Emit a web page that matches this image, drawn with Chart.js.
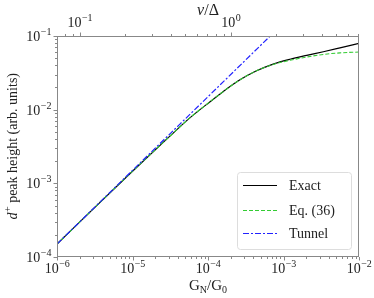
<!DOCTYPE html>
<html>
<head>
<meta charset="utf-8">
<script src="https://cdn.jsdelivr.net/npm/chart.js"></script>
<style>
  body { margin: 0; background: #fff; }
  #wrap { width: 374px; height: 298px; }
</style>
</head>
<body>
<div id="wrap"><canvas id="chart" width="374" height="298"></canvas></div>
<script>
// conductance G_N/G_0 sample points
const gExact = [1e-6, 3e-6, 1e-5, 3e-5, 5.8e-5, 9.6e-5, 1.6e-4, 2.65e-4, 4.4e-4, 7.3e-4, 1.22e-3, 2.03e-3, 3.37e-3, 5.6e-3, 1e-2];
const exactVals = [1.5e-4, 4.47e-4, 1.46e-3, 4.2e-3, 7.8e-3, 0.0118, 0.0177, 0.0254, 0.0337, 0.0416, 0.0484, 0.0546, 0.0611, 0.0690, 0.0795];
const eq36Vals = [1.5e-4, 4.47e-4, 1.46e-3, 4.2e-3, 7.8e-3, 0.0118, 0.0177, 0.0254, 0.0337, 0.0411, 0.0468, 0.0518, 0.0562, 0.0590, 0.0606];
const gTunnel = [1e-6, 1e-5, 1e-4, 6.67e-4];
const tunnelVals = [1.5e-4, 1.5e-3, 1.5e-2, 0.1];

const seriesNames = ['Exact', 'Eq. (36)', 'Tunnel'];
const seriesColors = ['#000000', '#33cc33', '#2222ff'];
const seriesDash = [[], [4, 2], [6, 2, 2, 2]];
const seriesWidth = [1.2, 1.1, 1.2];

// axis ranges / tick exponents
const xExps = [-6, -5, -4, -3, -2];
const yExps = [-4, -3, -2, -1];
const topExps = [-1, 0];
const topMin = 0.0707, topMax = 7.07;

const SERIF = '"Liberation Serif", "DejaVu Serif", serif';
const AXIS = '#888';

function pts(xs, ys) {
    return xs.map((x, i) => ({ x: x, y: ys[i] }));
}

// "10" with a superscript exponent
function drawPow(ctx, x, y, exp, align) {
    const base = '10';
    const supTxt = exp < 0 ? '\u2212' + Math.abs(exp) : String(exp);
    ctx.font = '14px ' + SERIF;
    const wb = ctx.measureText(base).width;
    ctx.font = '10px ' + SERIF;
    const ws = ctx.measureText(supTxt).width;
    const w = wb + ws;
    let x0 = align === 'right' ? x - w : x - w / 2;
    ctx.textAlign = 'left';
    ctx.font = '14px ' + SERIF;
    ctx.fillText(base, x0, y);
    ctx.font = '10px ' + SERIF;
    ctx.fillText(supTxt, x0 + wb + 0.5, y - 6);
}

function logTicks(min, max) {
    const out = [];
    for (let e = -8; e <= 2; e++) {
        for (let m = 1; m <= 9; m++) {
            const v = m * Math.pow(10, e);
            if (v >= min * 0.9999 && v <= max * 1.0001) out.push({ v: v, major: m === 1 });
        }
    }
    return out;
}

const axesPlugin = {
    id: 'axesPlugin',
    afterDraw(chart) {
        const ctx = chart.ctx;
        const a = chart.chartArea;
        const sx = chart.scales.x, sy = chart.scales.y, st = chart.scales.x2;
        ctx.save();
        ctx.strokeStyle = AXIS;
        ctx.lineWidth = 1;
        ctx.strokeRect(a.left + 0.5, a.top + 0.5, a.right - a.left - 1, a.bottom - a.top - 1);

        ctx.beginPath();
        logTicks(1e-6, 1e-2).forEach(t => {
            const px = Math.round(sx.getPixelForValue(t.v)) + 0.5;
            ctx.moveTo(px, a.bottom);
            ctx.lineTo(px, a.bottom + (t.major ? 3.5 : 2));
        });
        logTicks(1e-4, 1e-1).forEach(t => {
            const py = Math.round(sy.getPixelForValue(t.v)) + 0.5;
            ctx.moveTo(a.left, py);
            ctx.lineTo(a.left - (t.major ? 3.5 : 2), py);
        });
        logTicks(topMin, topMax).forEach(t => {
            const px = Math.round(st.getPixelForValue(t.v)) + 0.5;
            ctx.moveTo(px, a.top);
            ctx.lineTo(px, a.top - (t.major ? 3.5 : 2));
        });
        ctx.stroke();

        ctx.fillStyle = '#222';
        ctx.textBaseline = 'alphabetic';
        xExps.forEach(e => drawPow(ctx, sx.getPixelForValue(Math.pow(10, e)), a.bottom + 16, e, 'center'));
        yExps.forEach(e => drawPow(ctx, a.left - 6, sy.getPixelForValue(Math.pow(10, e)) + 5, e, 'right'));
        topExps.forEach(e => drawPow(ctx, st.getPixelForValue(Math.pow(10, e)), a.top - 9, e, 'center'));

        // bottom title G_N/G_0
        const cx = (a.left + a.right) / 2;
        const parts = [['G', 15, 0], ['N', 10, 3], ['/G', 15, 0], ['0', 10, 3]];
        let tw = 0;
        parts.forEach(p => { ctx.font = p[1] + 'px ' + SERIF; tw += ctx.measureText(p[0]).width; });
        let xx = cx - tw / 2;
        parts.forEach(p => {
            ctx.font = p[1] + 'px ' + SERIF;
            ctx.fillText(p[0], xx, 290 + p[2]);
            xx += ctx.measureText(p[0]).width;
        });

        // top title v/Δ
        ctx.font = 'italic 16px ' + SERIF;
        const wv = ctx.measureText('v').width;
        ctx.font = '16px ' + SERIF;
        const wd = ctx.measureText('/\u0394').width;
        const tx = cx - (wv + wd) / 2;
        ctx.font = 'italic 16px ' + SERIF;
        ctx.fillText('v', tx, 15);
        ctx.font = '16px ' + SERIF;
        ctx.fillText('/\u0394', tx + wv, 15);

        // y title
        ctx.save();
        ctx.translate(17, (a.top + a.bottom) / 2);
        ctx.rotate(-Math.PI / 2);
        const rest = ' peak height (arb. units)';
        ctx.font = 'italic 14px ' + SERIF;
        const w1 = ctx.measureText('d').width;
        ctx.font = '10px ' + SERIF;
        const w2 = ctx.measureText('+').width;
        ctx.font = '14px ' + SERIF;
        const w3 = ctx.measureText(rest).width;
        let yx = -(w1 + w2 + w3) / 2;
        ctx.font = 'italic 14px ' + SERIF;
        ctx.fillText('d', yx, 0);
        ctx.font = '10px ' + SERIF;
        ctx.fillText('+', yx + w1 + 0.5, -6);
        ctx.font = '14px ' + SERIF;
        ctx.fillText(rest, yx + w1 + w2 + 0.5, 0);
        ctx.restore();

        // legend
        const lx = 237, ly = 172, lw = 114, lh = 77;
        ctx.beginPath();
        ctx.roundRect(lx + 0.5, ly + 0.5, lw, lh, 3);
        ctx.fillStyle = 'rgba(255,255,255,0.85)';
        ctx.fill();
        ctx.strokeStyle = '#ddd';
        ctx.lineWidth = 1;
        ctx.stroke();
        const rows = [185, 210, 233];
        seriesNames.forEach((name, i) => {
            ctx.beginPath();
            ctx.strokeStyle = seriesColors[i];
            ctx.lineWidth = 1;
            ctx.setLineDash(seriesDash[i]);
            ctx.moveTo(243, rows[i] + 0.5);
            ctx.lineTo(277, rows[i] + 0.5);
            ctx.stroke();
            ctx.setLineDash([]);
            ctx.fillStyle = '#222';
            ctx.font = '14px ' + SERIF;
            ctx.textAlign = 'left';
            ctx.fillText(name, 289, rows[i] + 5);
        });
        ctx.restore();
    }
};

function fixSize(prop, val) {
    return function (scale) { scale[prop] = val; };
}

const valueSets = [pts(gExact, exactVals), pts(gExact, eq36Vals), pts(gTunnel, tunnelVals)];

new Chart(document.getElementById('chart'), {
    type: 'line',
    data: {
        datasets: seriesNames.map((name, i) => ({
            label: name,
            data: valueSets[i],
            borderColor: seriesColors[i],
            borderWidth: seriesWidth[i],
            borderDash: seriesDash[i],
            order: 2 - i   // later series drawn on top
        }))
    },
    options: {
        responsive: false,
        animation: false,
        layout: { padding: { right: 15, left: 0, top: 0, bottom: 0 } },
        elements: { point: { radius: 0 }, line: { cubicInterpolationMode: 'monotone', fill: false } },
        plugins: { legend: { display: false }, tooltip: { enabled: false } },
        scales: {
            x: {
                type: 'logarithmic', position: 'bottom', min: 1e-6, max: 1e-2,
                ticks: { display: false }, grid: { display: false }, border: { display: false },
                afterFit: fixSize('height', 41)
            },
            x2: {
                type: 'logarithmic', position: 'top', min: topMin, max: topMax,
                ticks: { display: false }, grid: { display: false }, border: { display: false },
                afterFit: fixSize('height', 36)
            },
            y: {
                type: 'logarithmic', position: 'left', min: 1e-4, max: 1e-1,
                ticks: { display: false }, grid: { display: false }, border: { display: false },
                afterFit: fixSize('width', 57)
            }
        }
    },
    plugins: [axesPlugin]
});
</script>
</body>
</html>
